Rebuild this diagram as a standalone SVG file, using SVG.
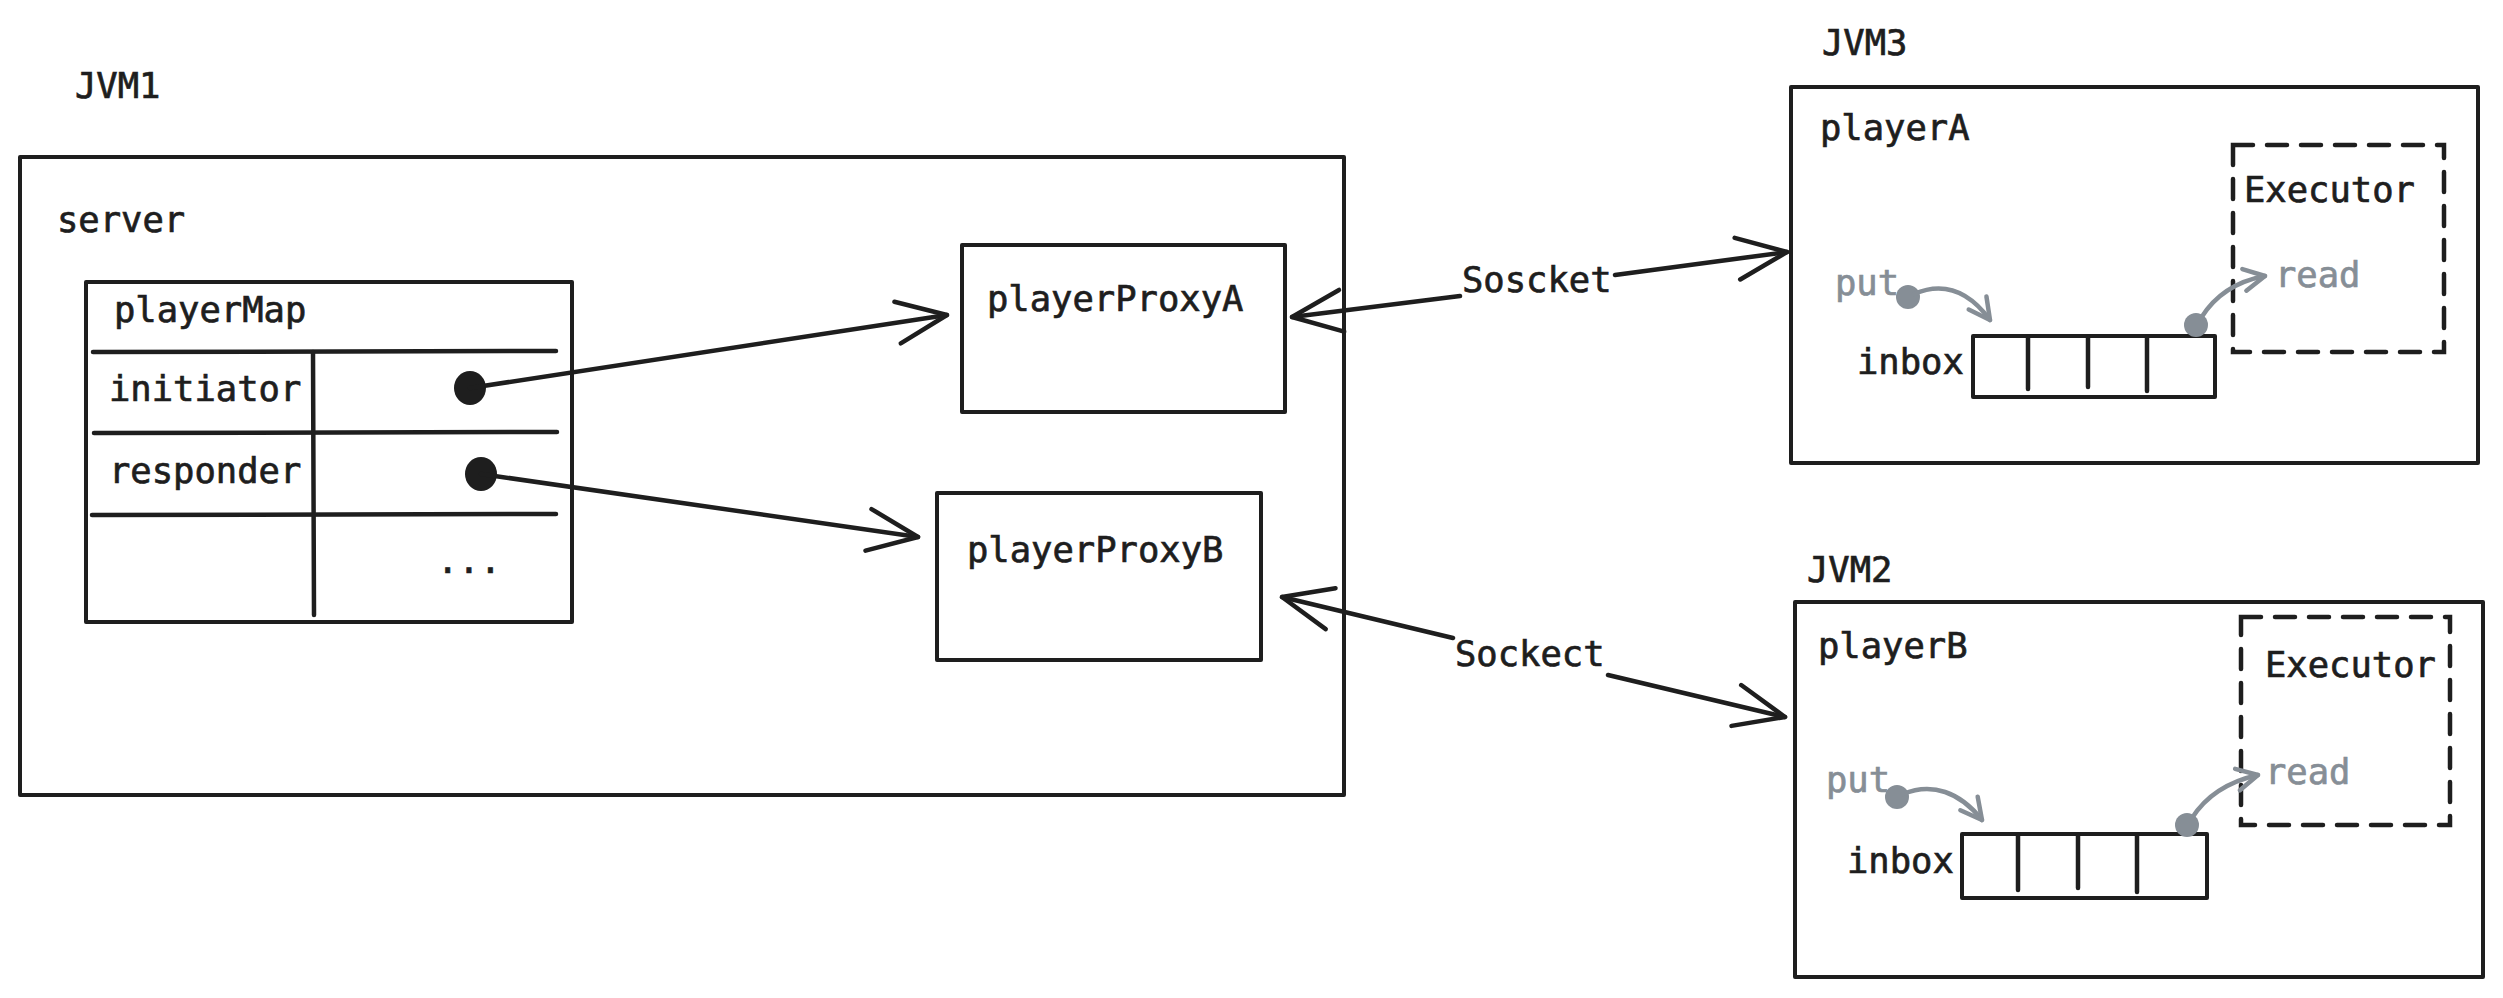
<svg xmlns="http://www.w3.org/2000/svg" width="2503" height="998" viewBox="0 0 2503 998">
<style>
  .t { font-family: "DejaVu Sans Mono", "Liberation Mono", monospace; font-size: 35.5px; fill: #1e1e1e; stroke: #1e1e1e; stroke-width: 0.7; }
  .g { fill: #868e96; stroke: #868e96; }
  .box { fill: none; stroke: #1e1e1e; stroke-width: 4; stroke-linejoin: round; }
  .dash { fill: none; stroke: #1e1e1e; stroke-width: 4.5; stroke-dasharray: 20 14; stroke-linecap: round; }
  .ln { fill: none; stroke: #1e1e1e; stroke-width: 4.5; stroke-linecap: round; }
  .conn { fill: none; stroke: #1e1e1e; stroke-width: 4.5; stroke-linecap: round; }
  .gconn { fill: none; stroke: #868e96; stroke-width: 4.5; stroke-linecap: round; }
</style>
<defs>
  <marker id="ah" markerUnits="userSpaceOnUse" markerWidth="70" markerHeight="80" viewBox="-60 -40 70 80" refX="0" refY="0" orient="auto-start-reverse">
    <path d="M-50 -21 L0 0 L-50 21" fill="none" stroke="#1e1e1e" stroke-width="4.5" stroke-linecap="round" stroke-linejoin="round"/>
  </marker>
  <marker id="gah" markerUnits="userSpaceOnUse" markerWidth="40" markerHeight="40" viewBox="-30 -20 40 40" refX="0" refY="0" orient="auto">
    <path d="M-21 -11 L0 0 L-21 11" fill="none" stroke="#868e96" stroke-width="4.5" stroke-linecap="round" stroke-linejoin="round"/>
  </marker>
</defs>
<rect x="0" y="0" width="2503" height="998" fill="#ffffff"/>

<g id="jvm1">
  <text class="t" x="75" y="98">JVM1</text>
  <rect class="box" x="20" y="157" width="1324" height="638"/>
  <text class="t" x="57" y="232">server</text>
</g>

<g id="playerMap">
  <rect class="box" x="86" y="282" width="486" height="340"/>
  <text class="t" x="114" y="322">playerMap</text>
  <line class="ln" x1="93" y1="352" x2="556" y2="351"/>
  <line class="ln" x1="313" y1="352" x2="314" y2="615"/>
  <text class="t" x="109" y="401">initiator</text>
  <line class="ln" x1="94" y1="433" x2="557" y2="432"/>
  <text class="t" x="109" y="483">responder</text>
  <line class="ln" x1="92" y1="515" x2="556" y2="514"/>
  <text class="t" x="437" y="573">...</text>
  <ellipse cx="470" cy="388" rx="16" ry="17" fill="#1e1e1e"/>
  <ellipse cx="481" cy="474" rx="16" ry="17" fill="#1e1e1e"/>
</g>

<g id="playerProxyA">
  <rect class="box" x="962" y="245" width="323" height="167"/>
  <text class="t" x="987" y="311">playerProxyA</text>
</g>

<g id="playerProxyB">
  <rect class="box" x="937" y="493" width="324" height="167"/>
  <text class="t" x="967" y="562">playerProxyB</text>
</g>

<g id="jvm3">
  <text class="t" x="1822" y="55">JVM3</text>
  <rect class="box" x="1791" y="87" width="687" height="376"/>
  <text class="t" x="1820" y="140">playerA</text>
  <rect class="dash" x="2233" y="145" width="211" height="207"/>
  <text class="t" x="2244" y="202">Executor</text>
  <text class="t g" x="1835" y="295">put</text>
  <circle cx="1908" cy="297" r="12" fill="#868e96"/>
  <text class="t" x="1857" y="374">inbox</text>
  <rect class="box" x="1973" y="336" width="242" height="61"/>
  <line class="ln" x1="2028" y1="337" x2="2028" y2="389"/>
  <line class="ln" x1="2088" y1="337" x2="2088" y2="387"/>
  <line class="ln" x1="2147" y1="337" x2="2147" y2="391"/>
  <circle cx="2196" cy="325" r="12" fill="#868e96"/>
  <text class="t g" x="2275" y="287">read</text>
</g>

<g id="jvm2">
  <text class="t" x="1807" y="582">JVM2</text>
  <rect class="box" x="1795" y="602" width="688" height="375"/>
  <text class="t" x="1818" y="658">playerB</text>
  <rect class="dash" x="2241" y="617" width="209" height="208"/>
  <text class="t" x="2265" y="677">Executor</text>
  <text class="t g" x="1826" y="792">put</text>
  <circle cx="1897" cy="797" r="12" fill="#868e96"/>
  <text class="t" x="1847" y="873">inbox</text>
  <rect class="box" x="1962" y="834" width="245" height="64"/>
  <line class="ln" x1="2018" y1="835" x2="2018" y2="890"/>
  <line class="ln" x1="2078" y1="835" x2="2078" y2="888"/>
  <line class="ln" x1="2137" y1="835" x2="2137" y2="892"/>
  <circle cx="2187" cy="825" r="12" fill="#868e96"/>
  <text class="t g" x="2265" y="784">read</text>
</g>

<g id="connectors">
  <path class="conn" d="M470 388 L947 315" marker-end="url(#ah)"/>
  <path class="conn" d="M481 474 L918 537" marker-end="url(#ah)"/>
  <path class="conn" d="M1292 317 L1460 296 M1615 275 L1787 252" marker-start="url(#ah)" marker-end="url(#ah)"/>
  <text class="t" x="1462" y="292">Soscket</text>
  <path class="conn" d="M1282 597 L1453 638 M1608 675 L1785 717" marker-start="url(#ah)" marker-end="url(#ah)"/>
  <text class="t" x="1455" y="666">Sockect</text>
  <path class="gconn" d="M1914 294 C1942 282 1968 290 1990 320" marker-end="url(#gah)"/>
  <path class="gconn" d="M2201 318 Q2222 284 2265 276" marker-end="url(#gah)"/>
  <path class="gconn" d="M1903 794 C1932 782 1960 792 1982 820" marker-end="url(#gah)"/>
  <path class="gconn" d="M2192 818 Q2213 785 2258 775" marker-end="url(#gah)"/>
</g>
</svg>
